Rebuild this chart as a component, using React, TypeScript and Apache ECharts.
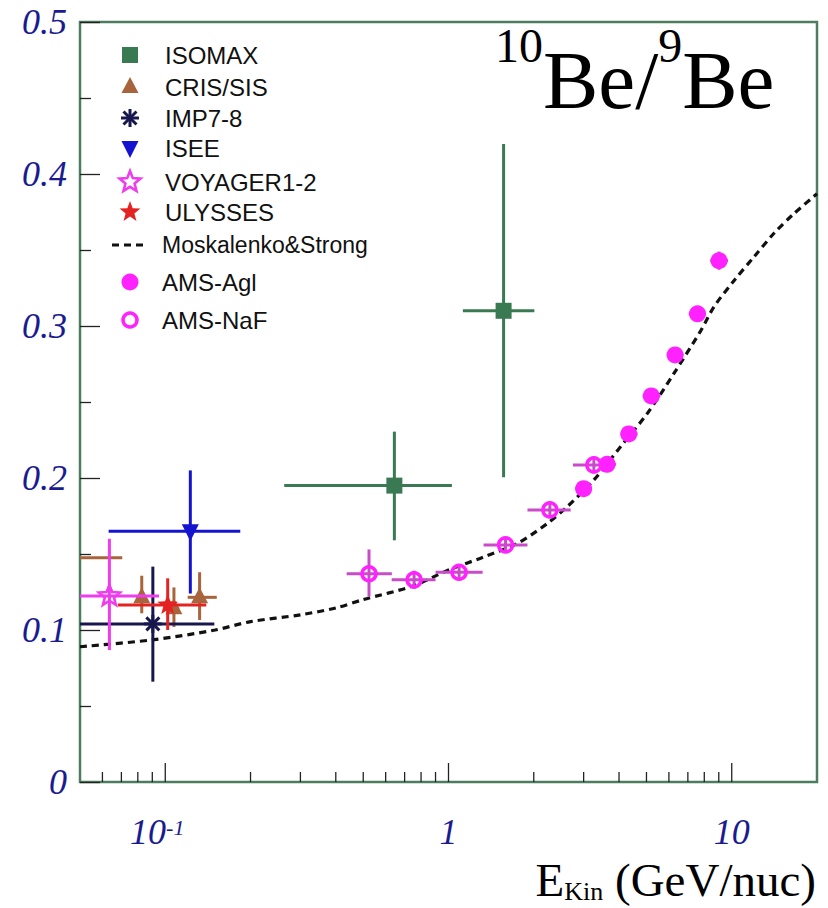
import React, { useEffect, useRef } from "react";
import * as echarts from "echarts";

// ---------------- data ----------------
const isomaxE = [0.644, 1.565];
const isomaxR = [0.195, 0.31];
const isomaxELo = [0.263, 1.124];
const isomaxEHi = [1.028, 2.01];
const isomaxRLo = [0.159, 0.2005];
const isomaxRHi = [0.2305, 0.4197];

const crisE = [0.042, 0.0826, 0.1073, 0.1322];
const crisR = [0.1476, 0.1215, 0.1143, 0.1215];
const crisELo = [0.03, 0.079, 0.103, 0.12];
const crisEHi = [0.0705, 0.086, 0.112, 0.152];
const crisRLo = [0.135, 0.111, 0.102, 0.1066];
const crisRHi = [0.16, 0.1357, 0.128, 0.138];

const impE = [0.0904];
const impR = [0.104];
const impELo = [0.04];
const impEHi = [0.149];
const impRLo = [0.066];
const impRHi = [0.1417];

const iseeE = [0.1226];
const iseeR = [0.165];
const iseeELo = [0.0631];
const iseeEHi = [0.184];
const iseeRLo = [0.124];
const iseeRHi = [0.205];

const voyE = [0.0635];
const voyR = [0.1224];
const voyELo = [0.045];
const voyEHi = [0.095];
const voyRLo = [0.0868];
const voyRHi = [0.16];

const ulyE = [0.102];
const ulyR = [0.1164];
const ulyELo = [0.068];
const ulyEHi = [0.1396];
const ulyRLo = [0.1];
const ulyRHi = [0.134];

const agiE = [3.0, 3.63, 4.33, 5.2, 6.31, 7.57, 9.02];
const agiR = [0.193, 0.209, 0.229, 0.254, 0.281, 0.308, 0.343];
const agiELo = [2.8, 3.4, 4.05, 4.85, 5.9, 7.05, 8.4];
const agiEHi = [3.2, 3.9, 4.65, 5.6, 6.75, 8.1, 9.7];
const agiRLo = [0.188, 0.204, 0.224, 0.249, 0.276, 0.303, 0.337];
const agiRHi = [0.198, 0.214, 0.234, 0.259, 0.286, 0.313, 0.349];

const nafE = [0.524, 0.756, 1.09, 1.59, 2.28, 3.26];
const nafR = [0.137, 0.133, 0.138, 0.156, 0.179, 0.2086];
const nafELo = [0.437, 0.63, 0.9, 1.33, 1.9, 2.75];
const nafEHi = [0.631, 0.9, 1.32, 1.9, 2.7, 3.7];
const nafRLo = [0.122, 0.127, 0.133, 0.151, 0.174, 0.203];
const nafRHi = [0.153, 0.139, 0.143, 0.161, 0.184, 0.214];

const modelE = [0.05, 0.09, 0.15, 0.2, 0.3, 0.4, 0.5, 0.75, 1.0, 1.33, 1.75, 2.23, 2.62, 3.26, 4.05, 5.04, 6.26, 7.78, 8.66, 10.2, 12.0, 14.1, 16.6, 20];
const modelR = [0.089, 0.0935, 0.1, 0.1055, 0.11, 0.1145, 0.12, 0.129, 0.1395, 0.148, 0.157, 0.17, 0.181, 0.1987, 0.2206, 0.2426, 0.269, 0.297, 0.3127, 0.33, 0.3456, 0.361, 0.374, 0.387];

const xMajorTicks = [0.1, 1, 10];
const xMinorTicks = [0.06, 0.07, 0.08, 0.09, 0.2, 0.3, 0.4, 0.5, 0.6, 0.7, 0.8, 0.9, 2, 3, 4, 5, 6, 7, 8, 9];

const legendNames = ["ISOMAX", "CRIS/SIS", "IMP7-8", "ISEE", "VOYAGER1-2", "ULYSSES", "Moskalenko&Strong", "AMS-Agl", "AMS-NaF"];

// ---------------- styles ----------------
const C_GREEN = "#3a7a52";
const C_FRAME = "#4b7d5e";
const C_BROWN = "#a8643c";
const C_NAVY = "#17174e";
const C_BLUE = "#1414d0";
const C_VOY = "#ee3cee";
const C_RED = "#e42222";
const C_AMS = "#ff22ff";
const C_AMSBAR = "#c84cc8";
const C_LABEL = "#1b1b90";

function starPoints(cx: number, cy: number, ro: number, ri: number) {
  const pts: number[][] = [];
  for (let k = 0; k < 10; k++) {
    const a = -Math.PI / 2 + (k * Math.PI) / 5;
    const r = k % 2 === 0 ? ro : ri;
    pts.push([cx + r * Math.cos(a), cy + r * Math.sin(a)]);
  }
  return pts;
}

function marker(kind: string, cx: number, cy: number, color: string): any {
  switch (kind) {
    case "square":
      return { type: "rect", shape: { x: cx - 8, y: cy - 8, width: 16, height: 16 }, style: { fill: color } };
    case "tri":
      return { type: "polygon", shape: { points: [[cx, cy - 10], [cx - 8.5, cy + 6], [cx + 8.5, cy + 6]] }, style: { fill: color } };
    case "dtri":
      return { type: "polygon", shape: { points: [[cx - 8.5, cy - 7], [cx + 8.5, cy - 7], [cx, cy + 10]] }, style: { fill: color } };
    case "star":
      return { type: "polygon", shape: { points: starPoints(cx, cy, 11, 4.6) }, style: { fill: color } };
    case "ostar":
      return { type: "polygon", shape: { points: starPoints(cx, cy, 11, 4.8) }, style: { fill: "none", stroke: color, lineWidth: 2.6 } };
    case "aster": {
      const d = 9;
      const e = 6.5;
      const st = { stroke: color, lineWidth: 3 };
      return {
        type: "group",
        children: [
          { type: "line", shape: { x1: cx - d, y1: cy, x2: cx + d, y2: cy }, style: st },
          { type: "line", shape: { x1: cx, y1: cy - d, x2: cx, y2: cy + d }, style: st },
          { type: "line", shape: { x1: cx - e, y1: cy - e, x2: cx + e, y2: cy + e }, style: st },
          { type: "line", shape: { x1: cx - e, y1: cy + e, x2: cx + e, y2: cy - e }, style: st },
        ],
      };
    }
    case "dot":
      return { type: "circle", shape: { cx, cy, r: 8.5 }, style: { fill: color } };
    case "ocircle":
      return { type: "circle", shape: { cx, cy, r: 7 }, style: { fill: "none", stroke: color, lineWidth: 3.5 } };
    default:
      return { type: "group", children: [] };
  }
}

function errSeries(
  name: string,
  kind: string,
  color: string,
  barColor: string,
  E: number[],
  R: number[],
  ELo: number[],
  EHi: number[],
  RLo: number[],
  RHi: number[],
  barW: number
): any {
  return {
    type: "custom",
    name,
    coordinateSystem: "cartesian2d",
    clip: true,
    z: 4,
    data: E.map((e, i) => [e, R[i], ELo[i], EHi[i], RLo[i], RHi[i]]),
    encode: { x: 0, y: 1 },
    renderItem: (_params: any, api: any) => {
      const x = api.value(0);
      const y = api.value(1);
      const c = api.coord([x, y]);
      const l = api.coord([api.value(2), y]);
      const r = api.coord([api.value(3), y]);
      const b = api.coord([x, api.value(4)]);
      const t = api.coord([x, api.value(5)]);
      const st = { stroke: barColor, lineWidth: barW };
      return {
        type: "group",
        children: [
          { type: "line", shape: { x1: l[0], y1: c[1], x2: r[0], y2: c[1] }, style: st },
          { type: "line", shape: { x1: c[0], y1: t[1], x2: c[0], y2: b[1] }, style: st },
          marker(kind, c[0], c[1], color),
        ],
      };
    },
  };
}

export default function App() {
  const ref = useRef<HTMLDivElement>(null);

  useEffect(() => {
    if (!ref.current) return;
    const chart = echarts.init(ref.current, undefined, { renderer: "svg" });

    const tickData = [
      ...xMajorTicks.map((v) => [v, 0, 1]),
      ...xMinorTicks.map((v) => [v, 0, 0]),
    ];

    // legend rows
    const rowsY = [55, 87, 118, 148, 182, 212, 245, 282, 320];
    const legendKinds = ["square", "tri", "aster", "dtri", "ostar", "star", "dash", "dot", "ocircle"];
    const legendColors = [C_GREEN, C_BROWN, C_NAVY, C_BLUE, C_VOY, C_RED, "#111", C_AMS, C_AMS];
    const legendEls: any[] = [];
    legendNames.forEach((nm, i) => {
      const cy = rowsY[i];
      if (legendKinds[i] === "dash") {
        legendEls.push({
          type: "line",
          shape: { x1: 112, y1: cy, x2: 146, y2: cy },
          style: { stroke: "#111", lineWidth: 3, lineDash: [7, 5] },
        });
      } else {
        legendEls.push(marker(legendKinds[i], 130, cy, legendColors[i]));
      }
      legendEls.push({
        type: "text",
        x: i >= 6 ? 162 : 165,
        y: cy,
        style: {
          text: nm,
          fontFamily: "Liberation Sans",
          fontSize: i === 6 ? 23 : 24,
          fill: "#111",
          verticalAlign: "middle",
          align: "left",
        },
      });
    });

    const option: any = {
      animation: false,
      backgroundColor: "#ffffff",
      grid: {
        left: 80,
        top: 22,
        right: 11,
        bottom: 126,
        show: true,
        borderColor: C_FRAME,
        borderWidth: 2.5,
        backgroundColor: "transparent",
      },
      xAxis: {
        type: "log",
        logBase: 10,
        min: 0.05,
        max: 20,
        axisLine: { show: false },
        axisTick: { show: false },
        minorTick: { show: false },
        splitLine: { show: false },
        axisLabel: {
          margin: 34,
          color: C_LABEL,
          formatter: (v: number) => {
            const lg = Math.log10(v);
            const k = Math.round(lg);
            if (Math.abs(lg - k) > 1e-6) return "";
            if (k < 0) return `{n|10}{s|${k}}`;
            return `{n|${Math.pow(10, k)}}`;
          },
          rich: {
            n: {
              fontFamily: "Liberation Serif",
              fontStyle: "italic",
              fontSize: 36,
              color: C_LABEL,
              lineHeight: 32,
            },
            s: {
              fontFamily: "Liberation Serif",
              fontStyle: "italic",
              fontSize: 22,
              color: C_LABEL,
              verticalAlign: "top",
              lineHeight: 14,
              padding: [0, 16, 0, 0],
            },
          },
        },
      },
      yAxis: {
        type: "value",
        min: 0,
        max: 0.5,
        interval: 0.1,
        axisLine: { show: false },
        axisTick: { show: true, inside: true, length: 20, lineStyle: { color: "#222", width: 1.3 } },
        minorTick: { show: true, splitNumber: 2, length: 11, lineStyle: { color: "#222", width: 1.3 } },
        splitLine: { show: false },
        axisLabel: {
          margin: 13,
          fontFamily: "Liberation Serif",
          fontStyle: "italic",
          fontSize: 36,
          color: C_LABEL,
        },
      },
      series: [
        {
          type: "custom",
          name: "xticks",
          silent: true,
          z: 1,
          coordinateSystem: "cartesian2d",
          data: tickData,
          renderItem: (_p: any, api: any) => {
            const p = api.coord([api.value(0), 0]);
            const len = api.value(2) ? 19 : 10;
            return {
              type: "line",
              shape: { x1: p[0], y1: p[1], x2: p[0], y2: p[1] - len },
              style: { stroke: "#222", lineWidth: 1.3 },
            };
          },
        },
        {
          type: "line",
          name: "Moskalenko&Strong",
          data: modelE.map((e, i) => [e, modelR[i]]),
          showSymbol: false,
          symbol: "none",
          smooth: 0.3,
          z: 3,
          lineStyle: { color: "#111", width: 3.2, type: [7, 5] },
        },
        errSeries("ISOMAX", "square", C_GREEN, C_GREEN, isomaxE, isomaxR, isomaxELo, isomaxEHi, isomaxRLo, isomaxRHi, 3),
        errSeries("CRIS/SIS", "tri", C_BROWN, C_BROWN, crisE, crisR, crisELo, crisEHi, crisRLo, crisRHi, 3),
        errSeries("ISEE", "dtri", C_BLUE, C_BLUE, iseeE, iseeR, iseeELo, iseeEHi, iseeRLo, iseeRHi, 3),
        errSeries("IMP7-8", "aster", C_NAVY, C_NAVY, impE, impR, impELo, impEHi, impRLo, impRHi, 3),
        errSeries("VOYAGER1-2", "ostar", C_VOY, C_VOY, voyE, voyR, voyELo, voyEHi, voyRLo, voyRHi, 3),
        errSeries("ULYSSES", "star", C_RED, C_RED, ulyE, ulyR, ulyELo, ulyEHi, ulyRLo, ulyRHi, 3),
        errSeries("AMS-NaF", "ocircle", C_AMS, C_AMSBAR, nafE, nafR, nafELo, nafEHi, nafRLo, nafRHi, 3),
        errSeries("AMS-Agl", "dot", C_AMS, C_AMSBAR, agiE, agiR, agiELo, agiEHi, agiRLo, agiRHi, 3),
      ],
      graphic: [
        ...legendEls,
        {
          type: "text",
          x: 495,
          y: 30,
          style: {
            text: "{s|10}{m|Be/}{s|9}{m|Be}",
            verticalAlign: "top",
            align: "left",
            fill: "#000",
            rich: {
              s: { fontFamily: "Liberation Serif", fontSize: 48, lineHeight: 30, height: 30, verticalAlign: "top", fill: "#000" },
              m: { fontFamily: "Liberation Serif", fontSize: 83, lineHeight: 100, fill: "#000" },
            },
          },
        },
        {
          type: "text",
          x: 816,
          y: 856,
          style: {
            text: "{m|E}{k|Kin}{m| (GeV/nuc)}",
            verticalAlign: "top",
            align: "right",
            fill: "#000",
            rich: {
              m: { fontFamily: "Liberation Serif", fontSize: 47, lineHeight: 48, fill: "#000" },
              k: { fontFamily: "Liberation Serif", fontSize: 26, lineHeight: 14, verticalAlign: "bottom", fill: "#000" },
            },
          },
        },
      ],
    };

    chart.setOption(option);
    return () => {
      chart.dispose();
    };
  }, []);

  return (
    <div
      ref={ref}
      style={{ position: "absolute", left: 0, top: 0, width: 828, height: 908, background: "#fff" }}
    />
  );
}
